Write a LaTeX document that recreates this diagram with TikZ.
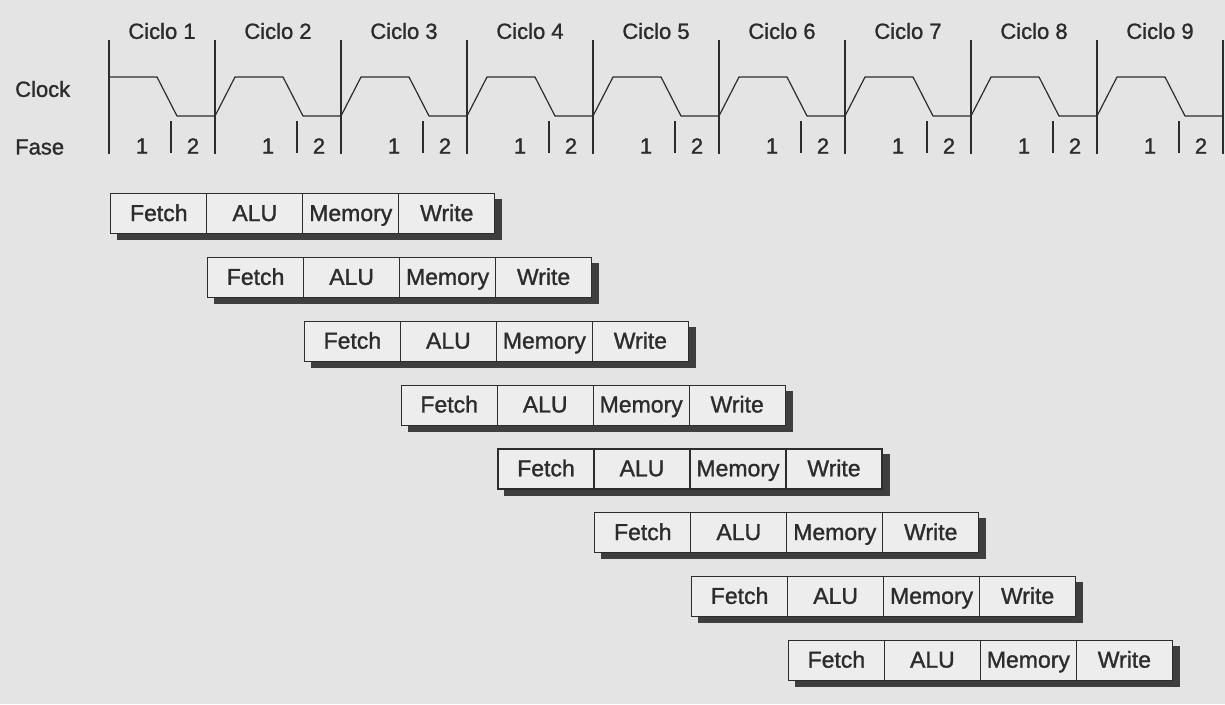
\documentclass[tikz,border=0pt]{standalone}
\usepackage{fontspec}
\setmainfont{Liberation Sans}[FakeBold=1.2]
\usetikzlibrary{matrix,positioning,shadows}
\definecolor{paper}{HTML}{E4E4E4}
\definecolor{cell}{HTML}{EDEDED}
\definecolor{ink}{HTML}{2C2C2C}
\definecolor{shade}{HTML}{3E3E3E}
\tikzset{
  clk/text/.style={text=ink, font=\fontsize{22}{26}\selectfont, inner sep=1pt},
  clk/tick/.style={draw=ink, line width=1.2pt},
  clk/wave/.style={draw=ink, line width=1.2pt, line join=round},
  pipe/row/.style={
    matrix of nodes,
    inner sep=0pt,
    fill=cell,
    general shadow={fill=shade, shadow xshift=7pt, shadow yshift=-6pt},
    column sep=-1.2pt,
    nodes={
      draw=ink,
      line width=1.2pt,
      minimum width=96pt,
      minimum height=40pt,
      text height=16pt,
      text depth=1.5pt,
      inner sep=0pt,
      outer sep=0pt,
      text=ink,
      font=\fontsize{23}{27}\selectfont
    }
  }
}
\begin{document}
\begin{tikzpicture}[x=1pt, y=-1pt]
\useasboundingbox (0,0) rectangle (1225,704);
\fill[paper] (0,0) rectangle (1225,704);

% --- clock
\node[clk/text, anchor=west] (clock) at (14,89) {Clock};
\node[clk/text, anchor=west] (fase) at (14,147) {Fase};
\draw[clk/tick] (109,40) -- (109,154);
\draw[clk/wave] (109,77) \foreach \b in {89,215,...,1097} {
  -- (\b+20,77) -- (\b+68,77) -- (\b+88,116) -- (\b+126,116) };
\foreach \b [count=\c] in {89,215,...,1097} {
  \draw[clk/tick] (\b+126,40) -- (\b+126,154);
  \draw[clk/tick] (\b+82,121) -- (\b+82,153);
  \node[clk/text] (cyc\c) at ({\b+63+10*(\c==1)},31) {Ciclo \c};
  \node[clk/text] (ph\c-1) at (\b+53,146) {1};
  \node[clk/text] (ph\c-2) at (\b+104,146) {2};
}

% --- pipeline
\matrix (r1) [pipe/row, anchor=north west] at (110,193) {Fetch & ALU & Memory & Write\\};
\matrix (r2) [pipe/row, below=23pt of r1-1-2.south west, anchor=north west] {Fetch & ALU & Memory & Write\\};
\matrix (r3) [pipe/row, below=23pt of r2-1-2.south west, anchor=north west] {Fetch & ALU & Memory & Write\\};
\matrix (r4) [pipe/row, below=23pt of r3-1-2.south west, anchor=north west] {Fetch & ALU & Memory & Write\\};
\matrix (r5) [pipe/row, below=23pt of r4-1-2.south west, anchor=north west] {Fetch & ALU & Memory & Write\\};
\matrix (r6) [pipe/row, below=23pt of r5-1-2.south west, anchor=north west] {Fetch & ALU & Memory & Write\\};
\matrix (r7) [pipe/row, below=23pt of r6-1-2.south west, anchor=north west] {Fetch & ALU & Memory & Write\\};
\matrix (r8) [pipe/row, below=23pt of r7-1-2.south west, anchor=north west] {Fetch & ALU & Memory & Write\\};

\end{tikzpicture}
\end{document}
